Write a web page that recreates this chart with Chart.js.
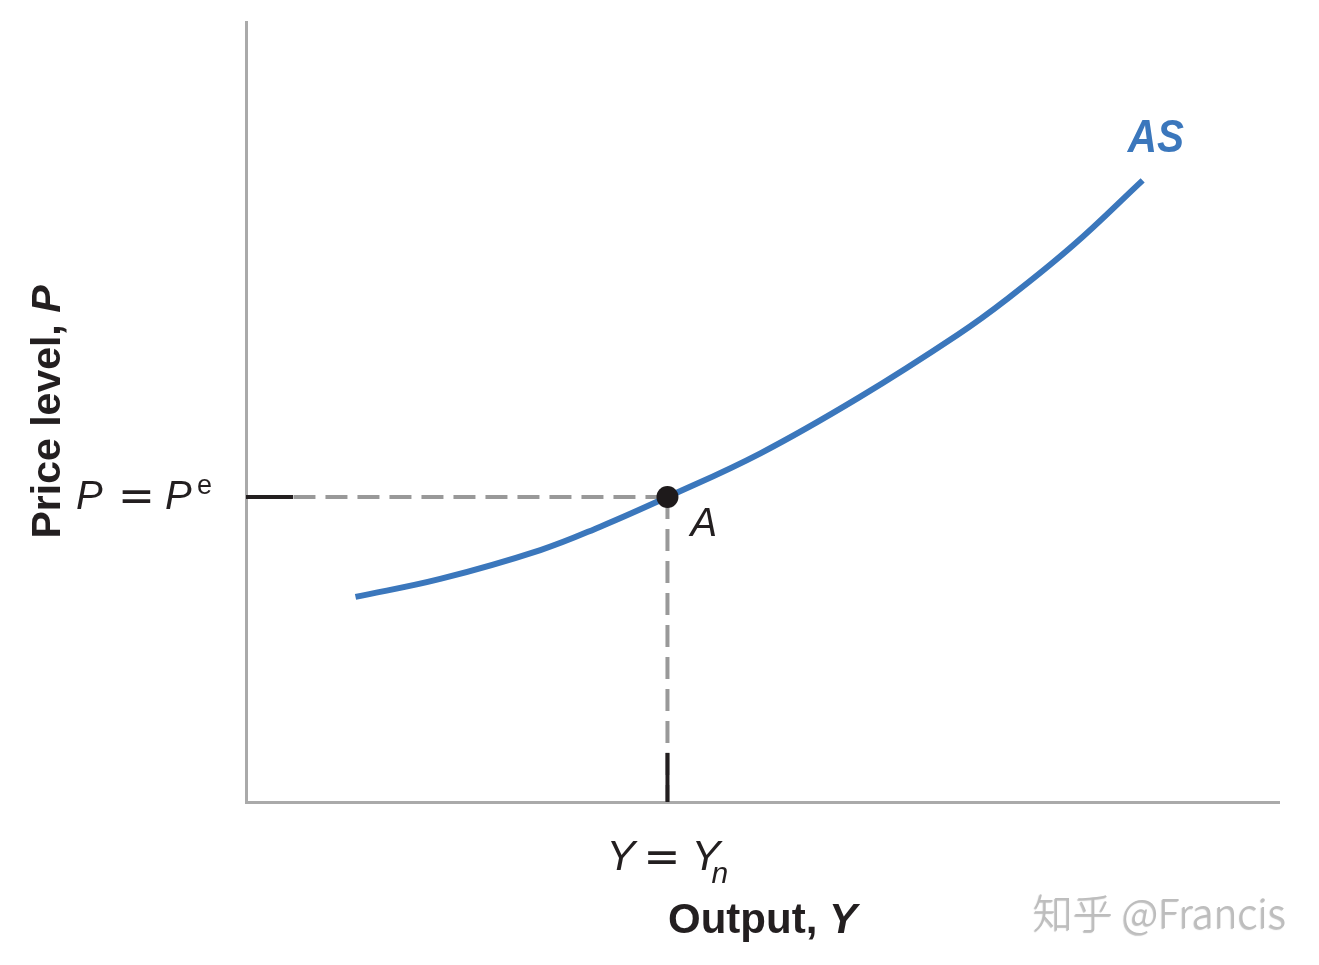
<!DOCTYPE html>
<html>
<head>
<meta charset="utf-8">
<script src="https://cdn.jsdelivr.net/npm/chart.js@4.4.1/dist/chart.umd.min.js"></script>
<style>
html,body{margin:0;padding:0;background:#fff;}
#wrap{position:relative;width:1319px;height:965px;}
canvas{display:block;}
</style>
</head>
<body>
<div id="wrap"><canvas id="c" width="1319" height="965"></canvas></div>
<script>
// ---- data ----
const asX = [10.6, 18.8, 28.5, 34.3, 40.8, 49.8, 59.4, 68.9, 73.7, 80.1, 86.8];
const asY = [26.3, 28.6, 32.3, 35.3, 39.1, 44.7, 51.9, 59.9, 64.5, 71.4, 79.7];
const eqX = [40.8];          // Y = Yn
const eqY = [39.1];          // P = Pe
const xRange = [0, 100];
const yRange = [0, 100];
const curveLabel = "AS";
const pointLabel = "A";
const xTitle = ["Output, ", "Y"];
const yTitle = ["Price level, ", "P"];
const watermark = "知乎 @Francis";

const asData = asX.map((x, i) => ({x: x, y: asY[i]}));
const Ye = eqX[0], Pe = eqY[0];

const textPlugin = {
  id: 'texts',
  afterDraw(chart) {
    const ctx = chart.ctx;
    const xs = chart.scales.x, ys = chart.scales.y;
    const ca = chart.chartArea;
    const px = xs.getPixelForValue(Ye), py = ys.getPixelForValue(Pe);
    const SANS = '"Liberation Sans", Arial, sans-serif';
    ctx.save();
    ctx.fillStyle = '#231f20';
    ctx.textBaseline = 'alphabetic';
    ctx.textAlign = 'left';

    // P = Pe
    ctx.font = 'italic 40px ' + SANS;
    ctx.fillText('P', 76, py + 12);
    ctx.font = '44px "DejaVu Sans"';
    ctx.fillText('=', 118, py + 14);
    ctx.font = 'italic 40px ' + SANS;
    ctx.fillText('P', 165, py + 12);
    ctx.font = '27px ' + SANS;
    ctx.fillText('e', 197, py - 3);

    // A
    ctx.font = 'italic 40px ' + SANS;
    ctx.fillText(pointLabel, px + 23, py + 39);

    // Y = Yn
    const yb = ca.bottom + 68;
    ctx.font = 'italic 43px ' + SANS;
    ctx.fillText('Y', px - 61, yb);
    ctx.font = '44px "DejaVu Sans"';
    ctx.fillText('=', px - 24, yb + 2);
    ctx.font = 'italic 43px ' + SANS;
    ctx.fillText('Y', px + 24, yb);
    ctx.font = 'italic 30px ' + SANS;
    ctx.fillText('n', px + 44, yb + 13);

    // x title
    ctx.font = 'bold 42px ' + SANS;
    const w1 = ctx.measureText(xTitle[0]).width;
    ctx.font = 'italic bold 42px ' + SANS;
    const w2 = ctx.measureText(xTitle[1]).width;
    const cx = (ca.left + ca.right) / 2;
    let sx = cx - (w1 + w2) / 2;
    ctx.font = 'bold 42px ' + SANS;
    ctx.fillText(xTitle[0], sx, ca.bottom + 131);
    ctx.font = 'italic bold 42px ' + SANS;
    ctx.fillText(xTitle[1], sx + w1, ca.bottom + 131);

    // y title (rotated)
    ctx.save();
    const cy = (ca.top + ca.bottom) / 2;
    ctx.translate(60, cy);
    ctx.rotate(-Math.PI / 2);
    ctx.font = 'bold 41px ' + SANS;
    const v1 = ctx.measureText(yTitle[0]).width;
    ctx.font = 'italic bold 41px ' + SANS;
    const v2 = ctx.measureText(yTitle[1]).width;
    let sv = -(v1 + v2) / 2;
    ctx.font = 'bold 41px ' + SANS;
    ctx.fillText(yTitle[0], sv, 0);
    ctx.font = 'italic bold 41px ' + SANS;
    ctx.fillText(yTitle[1], sv + v1, 0);
    ctx.restore();

    // AS label
    const last = asData[asData.length - 1];
    const lx = xs.getPixelForValue(last.x), ly = ys.getPixelForValue(last.y);
    ctx.save();
    ctx.fillStyle = '#3b77bc';
    ctx.translate(lx - 15, ly - 28);
    ctx.scale(0.88, 1);
    ctx.font = 'italic bold 46px ' + SANS;
    ctx.fillText(curveLabel, 0, 0);
    ctx.restore();

    // watermark
    ctx.save();
    ctx.textAlign = 'right';
    ctx.font = '300 40px "Noto Sans CJK SC"';
    ctx.shadowColor = 'rgba(0,0,0,0.25)';
    ctx.shadowOffsetX = -1;
    ctx.shadowOffsetY = 1;
    ctx.shadowBlur = 1;
    ctx.fillStyle = '#bdbdbd';
    ctx.fillText(watermark, 1286, 928);
    ctx.restore();

    ctx.restore();
  }
};

new Chart(document.getElementById('c'), {
  type: 'scatter',
  data: {
    datasets: [
      { // horizontal dashed guide, from A to axis
        order: 4,
        data: [{x: Ye, y: Pe}, {x: xRange[0], y: Pe}],
        showLine: true, borderColor: '#999999', borderWidth: 4,
        borderDash: [22, 10], pointRadius: 0, borderCapStyle: 'butt'
      },
      { // vertical dashed guide, from A to axis
        order: 4,
        data: [{x: Ye, y: Pe}, {x: Ye, y: yRange[0]}],
        showLine: true, borderColor: '#999999', borderWidth: 4,
        borderDash: [22, 10], pointRadius: 0, borderCapStyle: 'butt'
      },
      { // black tick at y-axis
        order: 3,
        data: [{x: xRange[0], y: Pe}, {x: 4.55, y: Pe}],
        showLine: true, borderColor: '#231f20', borderWidth: 4,
        pointRadius: 0, borderCapStyle: 'butt'
      },
      { // black tick at x-axis
        order: 3,
        data: [{x: Ye, y: yRange[0]}, {x: Ye, y: 6.3}],
        showLine: true, borderColor: '#231f20', borderWidth: 4,
        pointRadius: 0, borderCapStyle: 'butt'
      },
      { // AS curve
        order: 2,
        data: asData, showLine: true, borderColor: '#3b77bc', borderWidth: 6,
        pointRadius: 0, tension: 0.4, borderCapStyle: 'butt'
      },
      { // point A
        order: 1,
        data: [{x: Ye, y: Pe}], pointRadius: 11, pointBackgroundColor: '#1e1a1b',
        pointBorderWidth: 0, showLine: false
      }
    ]
  },
  options: {
    responsive: false, animation: false,
    devicePixelRatio: 1,
    layout: {padding: {left: 246, top: 22, right: 40, bottom: 163}},
    plugins: {legend: {display: false}, tooltip: {enabled: false}},
    elements: {line: {clip: false}},
    scales: {
      x: {
        type: 'linear', min: xRange[0], max: xRange[1],
        grid: {display: false, drawTicks: false},
        border: {display: true, color: '#aaaaaa', width: 3},
        ticks: {display: false},
        afterFit(s) { s.height = 0; }
      },
      y: {
        type: 'linear', min: yRange[0], max: yRange[1],
        grid: {display: false, drawTicks: false},
        border: {display: true, color: '#aaaaaa', width: 3},
        ticks: {display: false},
        afterFit(s) { s.width = 0; }
      }
    }
  },
  plugins: [textPlugin]
});
</script>
</body>
</html>
